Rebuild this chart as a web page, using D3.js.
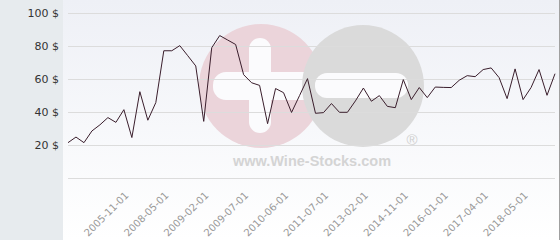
<!DOCTYPE html>
<html>
<head>
<meta charset="utf-8">
<script src="https://cdn.jsdelivr.net/npm/d3@7"></script>
<style>
  body { margin: 0; background: #fff; }
  svg { display: block; font-family: "DejaVu Sans", Verdana, sans-serif; }
</style>
</head>
<body>
<svg id="priceChart" width="560" height="240"></svg>
<script>
// price history (USD), one value per date category
let prices = [21.6, 25.0, 21.6, 28.7, 32.4, 36.8, 33.9, 41.6, 24.7, 52.5,
    35.2, 45.9, 77.3, 77.3, 80.4, 74.3, 68.1, 34.5, 79.1, 86.5,
    83.8, 81.1, 62.8, 57.9, 56.3, 33.1, 54.4, 51.9, 39.9, 50.1,
    60.4, 39.4, 39.8, 45.3, 40.0, 40.0, 46.9, 54.7, 46.7, 50.1,
    43.6, 42.8, 59.8, 47.7, 55.0, 48.9, 55.3, 55.1, 55.0, 59.4,
    62.2, 61.6, 65.9, 66.9, 61.0, 48.3, 66.3, 47.7, 55.0, 65.9,
    50.3, 63.4];
let tickLabels = ["2005-11-01", "2008-05-01", "2009-02-01", "2009-07-01", "2010-06-01",
    "2011-07-01", "2013-02-01", "2014-11-01", "2016-01-01", "2017-04-01", "2018-05-01"];
let tickIndexes = [8, 13, 18, 23, 28, 33, 38, 43, 48, 53, 58];
let yTicks = [0, 20, 40, 60, 80, 100];

let svg = d3.select("#priceChart");
let width = 560, height = 240;

let x = d3.scalePoint()
    .domain(d3.range(prices.length))
    .range([68, 555]);
let y = d3.scaleLinear()
    .domain([0, 100])
    .range([178.3, 13.3]);

// backgrounds
let grad = svg.append("defs").append("linearGradient")
    .attr("id", "plotBg")
    .attr("x1", 0).attr("y1", 0).attr("x2", 0).attr("y2", 1);
grad.append("stop").attr("offset", "0%").attr("stop-color", "#eef0f6");
grad.append("stop").attr("offset", "100%").attr("stop-color", "#ffffff");

svg.append("rect")
    .attr("width", width).attr("height", height)
    .attr("fill", "url(#plotBg)");
svg.append("rect")
    .attr("width", 63).attr("height", height)
    .attr("fill", "#e7ebee");
svg.append("line")
    .attr("x1", 559.5).attr("x2", 559.5)
    .attr("y1", 0).attr("y2", height)
    .attr("stroke", "#a0a0a0");

// watermark
let wm = svg.append("g");
wm.append("circle").attr("cx", 261).attr("cy", 86).attr("r", 62).attr("fill", "#ebd4da");
wm.append("rect").attr("x", 213).attr("y", 72).attr("width", 110).attr("height", 28)
    .attr("rx", 13).attr("fill", "#fbfbfd");
wm.append("rect").attr("x", 249).attr("y", 38).attr("width", 22).attr("height", 95)
    .attr("rx", 11).attr("fill", "#fbfbfd");
wm.append("circle").attr("cx", 363).attr("cy", 86).attr("r", 61).attr("fill", "#dadada");
wm.append("rect").attr("x", 315).attr("y", 73).attr("width", 93).attr("height", 25)
    .attr("rx", 12).attr("fill", "#fbfbfd");
wm.append("text")
    .attr("x", 412).attr("y", 145)
    .attr("text-anchor", "middle")
    .attr("font-family", "\"Liberation Sans\", Arial, sans-serif")
    .attr("font-size", "15px")
    .attr("fill", "#d0d0d0")
    .text("®");
wm.append("text")
    .attr("x", 312).attr("y", 166)
    .attr("text-anchor", "middle")
    .attr("font-family", "\"Liberation Sans\", Arial, sans-serif")
    .attr("font-size", "14.5px")
    .attr("font-weight", "bold")
    .attr("fill", "#d4d4d4")
    .text("www.Wine-Stocks.com");

// horizontal grid + y labels
svg.selectAll("line.grid")
    .data(yTicks).enter()
    .append("line")
    .attr("class", "grid")
    .attr("x1", 68).attr("x2", 555)
    .attr("y1", d => Math.round(y(d)) + 0.5)
    .attr("y2", d => Math.round(y(d)) + 0.5)
    .attr("stroke", "#dcdcdc");

svg.selectAll("text.ylab")
    .data(yTicks.filter(d => d > 0)).enter()
    .append("text")
    .attr("class", "ylab")
    .attr("x", 59)
    .attr("y", d => y(d) + 4)
    .attr("text-anchor", "end")
    .attr("font-size", "11px")
    .attr("fill", "#333")
    .text(d => d + " $");

// x axis labels (rotated)
let xAxis = d3.axisBottom(x)
    .tickValues(tickIndexes)
    .tickSize(0)
    .tickFormat((d, i) => tickLabels[i]);
let gx = svg.append("g")
    .attr("transform", "translate(0,190)")
    .call(xAxis);
gx.select(".domain").remove();
gx.selectAll("text")
    .attr("font-size", "10px")
    .attr("font-family", "\"DejaVu Sans\", Verdana, sans-serif")
    .attr("fill", "#999")
    .attr("text-anchor", "end")
    .attr("dy", 0)
    .attr("y", 0)
    .attr("transform", "translate(-3,6) rotate(-45)");

// price line
let line = d3.line()
    .x((d, i) => x(i))
    .y(d => y(d));
svg.append("path")
    .datum(prices)
    .attr("fill", "none")
    .attr("stroke", "#3a1e2c")
    .attr("stroke-width", 1)
    .attr("d", line);
</script>
</body>
</html>
